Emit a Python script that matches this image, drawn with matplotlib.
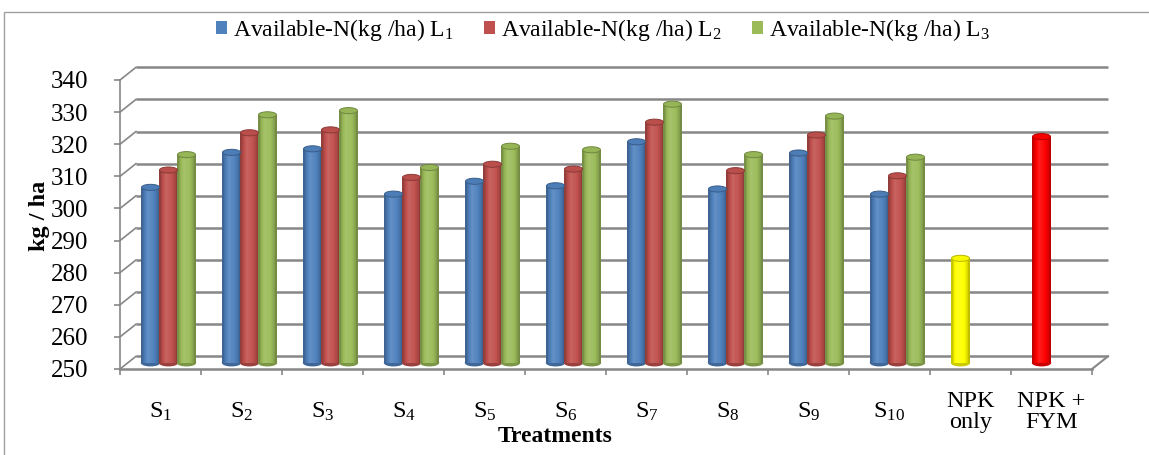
import numpy as np
import matplotlib
matplotlib.use('Agg')
import matplotlib.pyplot as plt
from matplotlib.patches import Ellipse, Patch, Rectangle
from matplotlib.transforms import ScaledTranslation

plt.rcParams['font.family'] = 'Liberation Serif'
plt.rcParams['mathtext.fontset'] = 'custom'
plt.rcParams['mathtext.rm'] = 'Liberation Serif'
plt.rcParams['mathtext.it'] = 'Liberation Serif:italic'
plt.rcParams['mathtext.bf'] = 'Liberation Serif:bold'

# Available nitrogen (kg/ha) per treatment and level
treatments = [r'$\mathrm{S}_{\mathrm{%d}}$' % i for i in range(1, 11)] + ['NPK\nonly', 'NPK +\nFYM']
avail_n_L1 = [304.6, 315.5, 316.6, 302.5, 306.5, 305.1, 318.8, 304.1, 315.3, 302.5]
avail_n_L2 = [310.0, 321.6, 322.5, 307.7, 311.8, 310.3, 324.9, 309.8, 320.9, 308.2]
avail_n_L3 = [314.8, 327.2, 328.5, 310.8, 317.4, 316.3, 330.5, 314.8, 326.8, 314.0]
control_vals = [282.5, 320.4]          # NPK only, NPK + FYM
series_labels = [r'Available-N(kg /ha) L$_{\mathrm{%d}}$' % i for i in (1, 2, 3)]
series_colors = ['#4F81BD', '#C0504D', '#9BBB59']
control_colors = ['#FFFF00', '#FF0000']
yticks = list(range(250, 341, 10))

GRID = '#878787'
PROFILE_T = [0.0, 0.12, 0.38, 0.7, 0.9, 1.0]
PROFILE_M = [0.72, 0.92, 1.12, 1.0, 0.86, 0.7]


def shade(color, m):
    c = np.array(matplotlib.colors.to_rgb(color))
    if m <= 1:
        c = c * m
    else:
        c = c + (1 - c) * (m - 1)
    return tuple(np.clip(c, 0, 1))


def cylinder(ax, x, top, width, color, tr, base=250, n=16, cap_h=1.9):
    edges = np.linspace(x - width / 2, x + width / 2, n + 1)
    mids = (edges[:-1] + edges[1:]) / 2
    mult = np.interp((mids - edges[0]) / width, PROFILE_T, PROFILE_M)
    ax.add_patch(Ellipse((x, base), width, cap_h, color=shade(color, 0.8),
                         transform=tr, zorder=2, clip_on=False))
    ax.bar(mids, top - base, width=width / n * 1.08, bottom=base,
           color=[shade(color, m) for m in mult], linewidth=0,
           transform=tr, zorder=3, clip_on=False)
    ax.add_patch(Ellipse((x, top), width, cap_h, facecolor=shade(color, 0.97),
                         edgecolor=shade(color, 0.72), lw=0.7,
                         transform=tr, zorder=4, clip_on=False))


fig = plt.figure(figsize=(11.49, 4.55), dpi=100)
ax = fig.add_axes([120 / 1149, 86 / 455, 972 / 1149, 289 / 455])
ax.set_xlim(-0.5, 11.5)
ax.set_ylim(250, 340)
ax.patch.set_visible(False)

# depth offsets: back wall and the middle row where the bars stand
back_tr = ax.transData + ScaledTranslation(0.16, 0.127, fig.dpi_scale_trans)
mid_tr = ax.transData + ScaledTranslation(0.08, 0.063, fig.dpi_scale_trans)
to_data = ax.transData.inverted()

for v in yticks:
    ax.plot([-0.5, 11.5], [v, v], color=GRID, lw=1.8, transform=back_tr,
            zorder=1, clip_on=False, solid_capstyle='butt')
    bx, by = to_data.transform(back_tr.transform((-0.5, v)))
    ax.plot([-0.5, bx], [v, by], color=GRID, lw=1.2, zorder=1, clip_on=False)
rx, ry = to_data.transform(back_tr.transform((11.5, 250)))
ax.plot([11.5, rx], [250, ry], color=GRID, lw=1.5, zorder=1, clip_on=False)

# clustered cylinders
w = 0.222
offsets = [-w, 0, w]
for vals, off, col in zip([avail_n_L1, avail_n_L2, avail_n_L3], offsets, series_colors):
    for i, v in enumerate(vals):
        cylinder(ax, i + off, v, w, col, mid_tr)
for j, (v, col) in enumerate(zip(control_vals, control_colors)):
    cylinder(ax, 10 + j + offsets[0], v, w, col, mid_tr)

# axes, ticks and labels
for s in ['top', 'right']:
    ax.spines[s].set_visible(False)
ax.spines['left'].set_color(GRID)
ax.spines['left'].set_linewidth(1.2)
ax.spines['bottom'].set_color(GRID)
ax.spines['bottom'].set_linewidth(1.8)
ax.set_yticks(yticks)
ax.set_yticklabels([str(t) for t in yticks], fontsize=18)
ax.tick_params(axis='y', length=4.5, width=1.2, color=GRID, pad=18)
ax.set_xticks(np.arange(-0.5, 12, 1))
ax.set_xticklabels([])
ax.tick_params(axis='x', length=4.5, width=1.2, color=GRID)
for i, lab in enumerate(treatments):
    ax.annotate(lab, xy=(i, 250), xytext=(0, -43), textcoords='offset pixels',
                ha='center', va='center', fontsize=17.5, linespacing=1.05)

fig.text(40 / 1149, 1 - 216 / 455, 'kg / ha', rotation=90, ha='center', va='center',
         fontsize=17.5, fontweight='bold')
fig.text(555 / 1149, 1 - 436 / 455, 'Treatments', ha='center', va='center',
         fontsize=17, fontweight='bold')

handles = [Patch(facecolor=c) for c in series_colors]
fig.legend(handles, series_labels, loc='center', bbox_to_anchor=(603 / 1149, 1 - 30 / 455),
           ncol=3, frameon=False, fontsize=17, handlelength=0.45, handleheight=0.45,
           handletextpad=0.25, columnspacing=1.3)

fig.add_artist(Rectangle((4 / 1149, -0.1), 1.2, (455 - 12) / 455 + 0.1,
                         transform=fig.transFigure, fill=False,
                         edgecolor='#a0a0a0', lw=1))

fig.savefig('out.png', dpi=100)
